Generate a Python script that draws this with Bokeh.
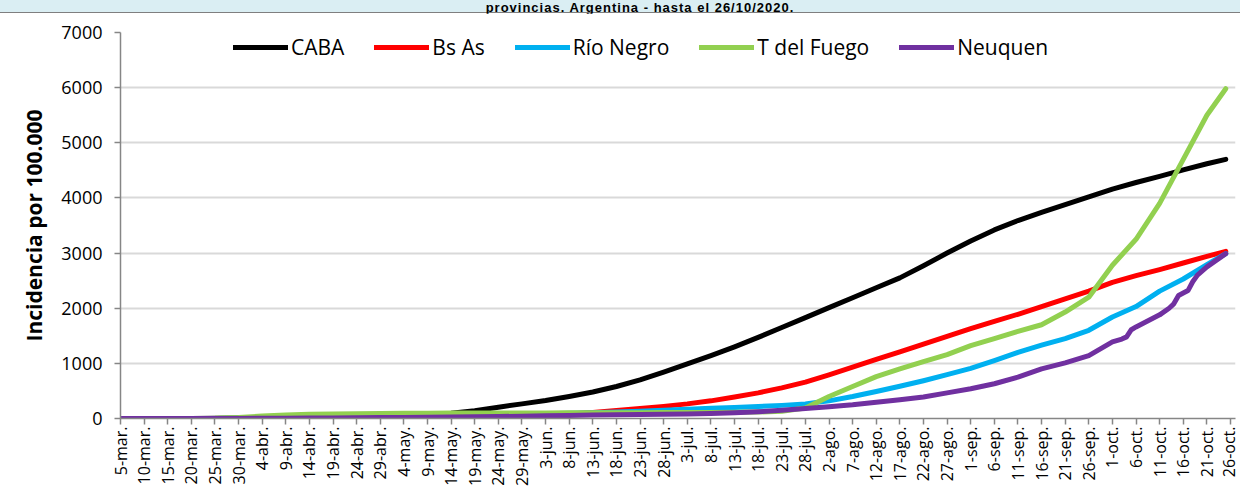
from bokeh.plotting import figure
from bokeh.models import Range1d, FixedTicker, Legend, LegendItem, Div
from bokeh.layouts import column
from bokeh.embed import file_html
from bokeh.resources import INLINE

# ---- data -------------------------------------------------------------
tick_days = list(range(0, 236, 5))
tick_labels = ["5-mar.", "10-mar.", "15-mar.", "20-mar.", "25-mar.", "30-mar.",
               "4-abr.", "9-abr.", "14-abr.", "19-abr.", "24-abr.", "29-abr.",
               "4-may.", "9-may.", "14-may.", "19-may.", "24-may.", "29-may.",
               "3-jun.", "8-jun.", "13-jun.", "18-jun.", "23-jun.", "28-jun.",
               "3-jul.", "8-jul.", "13-jul.", "18-jul.", "23-jul.", "28-jul.",
               "2-ago.", "7-ago.", "12-ago.", "17-ago.", "22-ago.", "27-ago.",
               "1-sep.", "6-sep.", "11-sep.", "16-sep.", "21-sep.", "26-sep.",
               "1-oct.", "6-oct.", "11-oct.", "16-oct.", "21-oct.", "26-oct."]

# days since 5-mar
days = [0, 5, 10, 15, 20, 25, 30, 35, 40, 45, 50, 55, 60, 65, 70, 75, 80, 85, 90, 95,
        100, 105, 110, 115, 120, 125, 130, 135, 140, 145, 150, 155, 160, 165, 170, 175,
        180, 185, 190, 195, 200, 205, 210, 215, 220, 225, 230, 234]

caba = [0, 0, 1, 2, 4, 8, 13, 20, 27, 35, 42, 50, 58, 70, 95, 140, 205, 265, 325, 400,
        480, 580, 700, 840, 990, 1140, 1300, 1470, 1650, 1830, 2010, 2190, 2370, 2550,
        2770, 3000, 3220, 3420, 3590, 3740, 3880, 4020, 4160, 4280, 4390, 4510, 4620, 4700]

bs_as = [0, 0, 0, 0, 0, 0, 1, 3, 5, 7, 9, 11, 13, 16, 20, 26, 34, 45, 60, 82,
         110, 145, 180, 220, 265, 320, 390, 465, 555, 660, 790, 930, 1070, 1210,
         1350, 1490, 1630, 1760, 1890, 2030, 2170, 2310, 2470, 2590, 2700, 2820, 2940, 3030]

rio_negro = [0, 0, 0, 0, 1, 3, 6, 12, 18, 24, 30, 36, 42, 48, 55, 62, 70, 78, 86, 95,
             105, 118, 132, 150, 170, 185, 200, 218, 238, 265, 320, 400, 490, 585,
             685, 795, 910, 1050, 1200, 1330, 1450, 1600, 1840, 2030, 2310, 2530, 2790, 2990]

t_del_fuego = [0, 0, 0, 2, 6, 20, 45, 62, 75, 82, 88, 92, 95, 97, 98, 99, 100, 101, 102, 103,
               104, 105, 106, 107, 108, 110, 113, 118, 130, 190, 400, 580, 760, 900,
               1030, 1160, 1320, 1450, 1580, 1700, 1930, 2200, 2780, 3250, 3900, 4700, 5500, 5980]

neuquen_days = [0, 25, 30, 35, 40, 45, 50, 55, 60, 65, 70, 75, 80, 85, 90, 95, 100, 105,
                110, 115, 120, 125, 130, 135, 140, 145, 150, 155, 160, 165, 170, 175, 180,
                185, 190, 195, 200, 205, 210, 212, 213, 214, 215, 220, 222, 223, 224, 226,
                227, 228, 230, 234]
neuquen = [0, 1, 3, 5, 8, 11, 14, 17, 20, 23, 27, 31, 36, 42, 48, 55, 62, 68,
           73, 78, 83, 92, 105, 122, 148, 180, 215, 250, 295, 340, 390, 465, 540,
           630, 750, 900, 1010, 1140, 1390, 1440, 1480, 1610, 1660, 1880, 2000, 2080, 2230, 2320,
           2480, 2600, 2750, 2990]

series = [("CABA", days, caba, "#000000"),
          ("Bs As", days, bs_as, "#FF0000"),
          ("Río Negro", days, rio_negro, "#00B0F0"),
          ("T del Fuego", days, t_del_fuego, "#92D050"),
          ("Neuquen", neuquen_days, neuquen, "#7030A0")]

title_text = "provincias. Argentina - hasta el 26/10/2020."

FONT = "Open Sans"

# title band
band = Div(text=('<div style="width:1240px; padding-left:40px; box-sizing:border-box; text-align:center; '
                 'white-space:nowrap; margin:0; letter-spacing:1px; '
                 'font-family:\'Liberation Sans\',Arial,sans-serif; font-weight:bold; '
                 'font-size:13px; line-height:12px; color:#000;">' + title_text + '</div>'),
           width=1240, height=13,
           styles={"background-color": "#DAEEF3", "border-bottom": "1.5px solid #7F7F7F",
                   "margin": "0", "padding": "0", "text-align": "center"})

p = figure(width=1240, height=475, output_backend="svg", toolbar_location=None,
           x_range=Range1d(0, 236.06), y_range=Range1d(0, 7000),
           min_border_left=120, min_border_right=5, min_border_top=19, min_border_bottom=68,
           background_fill_color="white", border_fill_color="white")
p.outline_line_color = None

items = []
for name, xs, ys, col in series:
    r = p.line(xs, ys, line_color=col, line_width=5, line_join="round", line_cap="round")
    items.append(LegendItem(label=name, renderers=[r]))

# axes
p.xaxis.ticker = FixedTicker(ticks=tick_days)
p.xaxis.major_label_overrides = {d: lab for d, lab in zip(tick_days, tick_labels)}
p.xaxis.major_label_orientation = 1.5707963
p.yaxis.ticker = FixedTicker(ticks=[0, 1000, 2000, 3000, 4000, 5000, 6000, 7000])
for ax in (p.xaxis, p.yaxis):
    ax.axis_line_color = "#868686"
    ax.axis_line_width = 1.5
    ax.major_tick_line_color = "#868686"
    ax.major_tick_line_width = 1.5
    ax.major_tick_out = 6
    ax.major_tick_in = 0
    ax.minor_tick_line_color = None
    ax.major_label_text_font = FONT
    ax.major_label_text_color = "#000000"
p.yaxis.major_label_text_font_size = "18px"
p.xaxis.major_label_text_font_size = "16px"
p.xaxis.major_label_standoff = 2
p.yaxis.major_label_standoff = 12
p.yaxis.axis_label = "Incidencia por 100.000"
p.yaxis.axis_label_text_font = FONT
p.yaxis.axis_label_text_font_style = "bold"
p.yaxis.axis_label_text_font_size = "21px"
p.yaxis.axis_label_text_color = "#000000"
p.yaxis.axis_label_standoff = 10

p.xgrid.grid_line_color = None
p.ygrid.grid_line_color = "#D9D9D9"
p.ygrid.grid_line_width = 2

legend = Legend(items=items, orientation="horizontal", location=(113, 357),
                glyph_width=55, glyph_height=20, label_standoff=3, spacing=30,
                padding=0, margin=0, border_line_color=None, background_fill_alpha=0,
                label_text_font=FONT, label_text_font_size="21px", label_text_color="#000000")
p.add_layout(legend)

layout = column(band, p, spacing=0)

open("out.html", "w").write(file_html(layout, INLINE))
